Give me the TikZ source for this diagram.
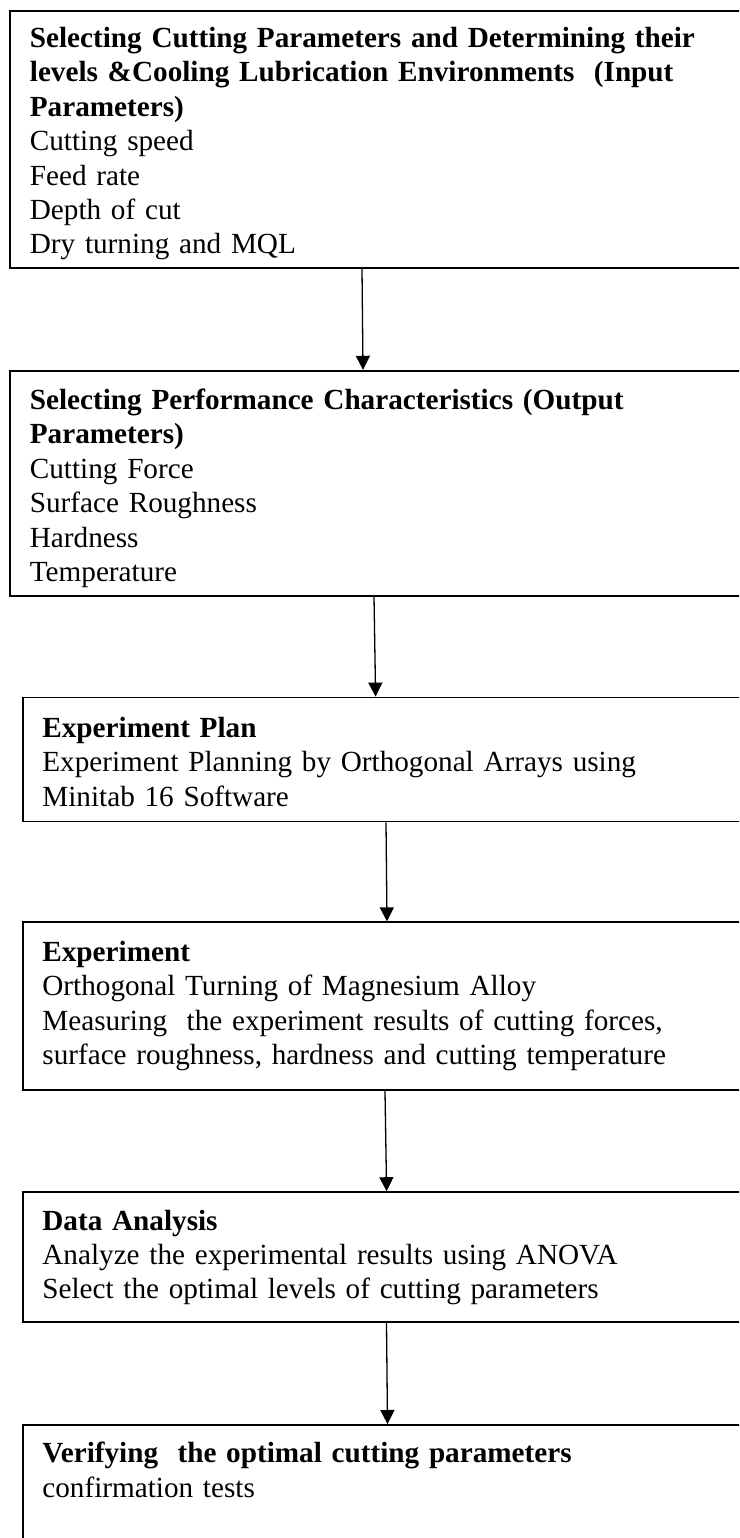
\documentclass[tikz,border=0pt]{standalone}
\usepackage{fontspec}
\setmainfont{Liberation Serif}
\usetikzlibrary{arrows.meta, positioning}

\begin{document}
\begin{tikzpicture}[x=1pt, y=-1pt, node distance=100pt,
    stage/.style={rectangle, draw=black, line width=1.8pt, anchor=north west, align=left,
      inner xsep=20pt, inner ysep=0pt, text width=740pt, text height=38pt,
      font=\fontsize{29.2}{34.4}\selectfont},
    line/.style={draw, line width=1.3pt, -{Triangle[length=14pt, width=14pt]}}]

    \useasboundingbox (0,0) rectangle (739,1538);
    \clip (0,0) rectangle (739,1538);

    \node [stage, text height=36.7pt, text depth=220.3pt] (input) at (9,10)
      {\textbf{Selecting Cutting Parameters and Determining their}\\
       \textbf{levels \&Cooling Lubrication Environments\ \ (Input}\\
       \textbf{Parameters)}\\
       Cutting speed\\
       Feed rate\\
       Depth of cut\\
       Dry turning and MQL};
    \node [stage, text height=38.7pt, text depth=186.3pt, below=101pt of input.south west, anchor=north west] (output)
      {\textbf{Selecting Performance Characteristics (Output}\\
       \textbf{Parameters)}\\
       Cutting Force\\
       Surface Roughness\\
       Hardness\\
       Temperature};
    \node [stage, inner xsep=19.5pt, text height=40pt, text depth=84pt, below=100pt of output.south west, anchor=north west, xshift=13pt] (plan)
      {\textbf{Experiment Plan}\\
       Experiment Planning by Orthogonal Arrays using\\
       Minitab 16 Software};
    \node [stage, inner xsep=19.5pt, text height=39pt, text depth=129pt, below=99pt of plan.south west, anchor=north west] (exp)
      {\textbf{Experiment}\\
       Orthogonal Turning of Magnesium Alloy\\
       Measuring\ \ the experiment results of cutting forces,\\
       surface roughness, hardness and cutting temperature};
    \node [stage, inner xsep=19.5pt, text height=38pt, text depth=92pt, below=100pt of exp.south west, anchor=north west] (anova)
      {\textbf{Data Analysis}\\
       Analyze the experimental results using ANOVA\\
       Select the optimal levels of cutting parameters};
    \node [stage, inner xsep=19.5pt, text height=38pt, text depth=200pt, below=101pt of anova.south west, anchor=north west] (verify)
      {\textbf{Verifying\ \ the optimal cutting parameters}\\
       confirmation tests};

    \path [line] ([xshift=353pt]input.south west) -- ([xshift=354pt]output.north west);
    \path [line] ([xshift=365pt]output.south west) -- ([xshift=353.6pt]plan.north west);
    \path [line] ([xshift=364pt]plan.south west) -- ([xshift=365pt]exp.north west);
    \path [line] ([xshift=363pt]exp.south west) -- ([xshift=364.6pt]anova.north west);
    \path [line] ([xshift=364.5pt]anova.south west) -- ([xshift=365.5pt]verify.north west);
  \end{tikzpicture}
\end{document}
